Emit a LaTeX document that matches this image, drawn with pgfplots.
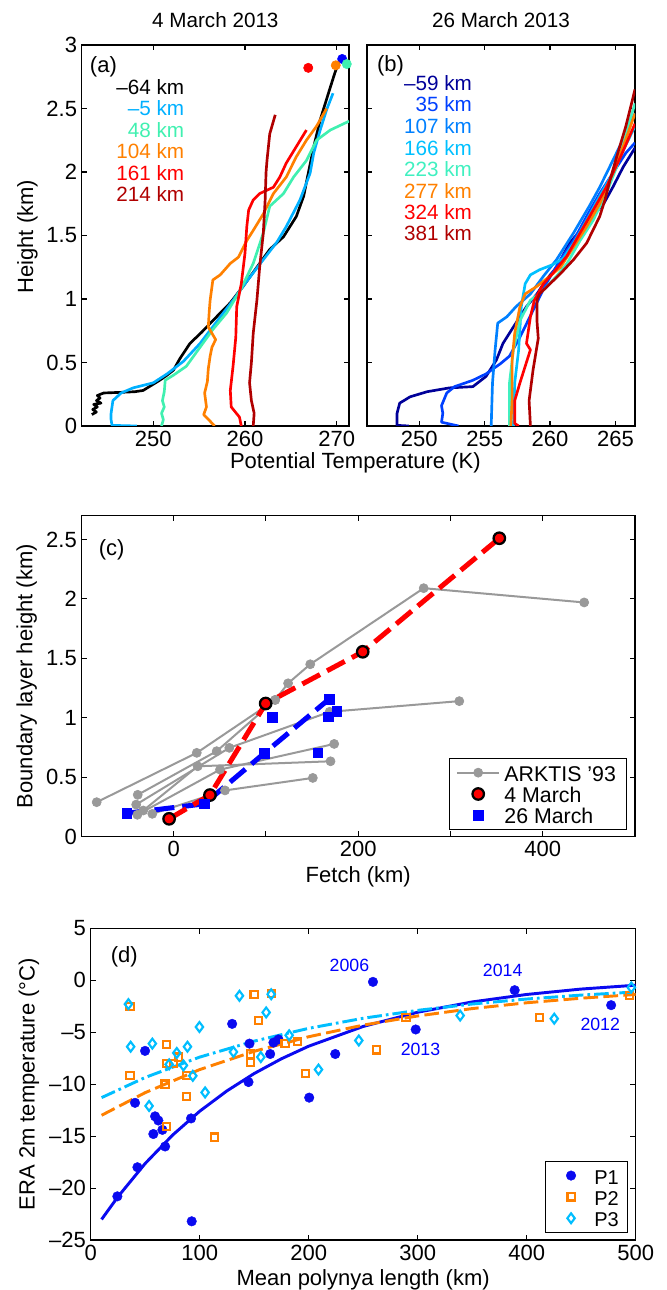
\documentclass[border=0pt]{standalone}
\usepackage{fontspec}
\setmainfont{Liberation Sans}
\usepackage{pgfplots}
\pgfplotsset{compat=1.18}

\definecolor{cAcyan}{RGB}{0,176,255}
\definecolor{cAqua}{RGB}{64,240,176}
\definecolor{cOrange}{RGB}{255,128,0}
\definecolor{cRed}{RGB}{255,0,0}
\definecolor{cDRed}{RGB}{176,0,0}
\definecolor{cNavy}{RGB}{0,0,153}
\definecolor{cBlue35}{RGB}{0,64,255}
\definecolor{cBlue107}{RGB}{0,128,255}
\definecolor{cSky}{RGB}{0,192,255}
\definecolor{cAqua2}{RGB}{64,240,192}
\definecolor{cGray}{RGB}{153,153,153}
\definecolor{cP1}{RGB}{10,10,240}
\definecolor{cP3}{RGB}{0,190,255}

\newcommand\fsT{\fontsize{16.5}{19}\selectfont}
\newcommand\fsL{\fontsize{15.5}{18}\selectfont}
\newcommand\fsG{\fontsize{16}{19}\selectfont}
\newcommand\fsY{\fontsize{13.3}{16}\selectfont}
\newcommand\lstrut{\rule[-5pt]{0pt}{19.5pt}}

\pgfplotsset{
  myax/.style={
    scale only axis, anchor=south west,
    axis line style={line width=0.9pt},
    tick align=inside, major tick length=4pt,
    every tick/.style={black, line width=0.8pt},
    tick label style={font=\fsT},
    enlargelimits=false,
  },
  prof/.style={no marks, line width=2pt, line join=round},
  lgline/.style={legend image code/.code={\path[draw=none,fill=none] (0cm,0cm) -- (#1,0cm);\draw[mark repeat=2,mark phase=2] plot coordinates {(0cm,0cm)(#1/2,0cm)(#1,0cm)};}},
  lgmark/.style={legend image code/.code={\path[draw=none,fill=none] (0cm,0cm) -- (#1,0cm);\draw[only marks, mark repeat=2,mark phase=2] plot coordinates {(0cm,0cm)(#1/2,0cm)(#1,0cm)};}},
}

\begin{document}
\begin{tikzpicture}
\path[use as bounding box] (0,0) rectangle (500.25pt,967.5pt);

% ---------------- (a) ----------------
\begin{axis}[myax, at={(61.3pt,648pt)}, width=200.5pt, height=285.75pt,
  xmin=242.2, xmax=271.35, ymin=0, ymax=3,
  xtick={250,260,270}, xticklabels={250,260,270},
  ytick={0,0.5,1,1.5,2,2.5,3}, yticklabels={0,0.5,1,1.5,2,2.5,3}]
\addplot[prof, black] coordinates {(243.3,0.09)(243.8,0.11)(243.4,0.13)(243.9,0.15)(243.5,0.17)(244.3,0.18)(243.8,0.2)(244.2,0.22)(243.9,0.24)(244.6,0.26)(246.5,0.265)(248,0.27)(248.9,0.28)(249.8,0.32)(250.7,0.36)(251.5,0.4)(252.2,0.44)(252.9,0.53)(254,0.65)(255.3,0.74)(256.5,0.83)(258.4,0.97)(259.8,1.1)(261.3,1.25)(262.7,1.39)(264.2,1.49)(265.6,1.65)(266.4,1.81)(266.9,1.99)(267.5,2.2)(268.2,2.41)(269.1,2.62)(269.8,2.78)(270.4,2.9)};
\addplot[prof, cAcyan] coordinates {(248.2,0)(245.5,0.005)(245.4,0.05)(245.4,0.1)(245.6,0.2)(246.5,0.26)(247.8,0.3)(250,0.34)(251.5,0.41)(253.3,0.51)(255.1,0.65)(256.9,0.82)(258.7,0.99)(260.2,1.14)(262,1.31)(263.5,1.45)(264.5,1.57)(266,1.78)(267.1,1.99)(267.5,2.15)(268.2,2.33)(268.9,2.49)(269.6,2.62)};
\addplot[prof, cAqua] coordinates {(250.9,0)(251.1,0.05)(250.9,0.1)(251.2,0.15)(251,0.2)(251.2,0.27)(251.3,0.36)(252.2,0.4)(253.6,0.47)(255.1,0.62)(256.5,0.76)(258,0.89)(259.5,1.07)(260.9,1.28)(262,1.52)(262.7,1.73)(264.2,1.83)(265.3,1.96)(266.7,2.09)(267.8,2.25)(269.3,2.33)(271.35,2.4)};
\addplot[prof, cOrange] coordinates {(256.7,0)(256.3,0.03)(255.5,0.09)(255.8,0.15)(255.6,0.26)(255.9,0.35)(256,0.45)(256.2,0.55)(256.4,0.62)(256.8,0.68)(256,0.78)(256.1,0.9)(256.2,0.99)(256.5,1.15)(257.3,1.19)(258.4,1.28)(259.3,1.33)(260.2,1.46)(260.9,1.54)(262,1.67)(263.1,1.83)(264.5,1.96)(265.6,2.12)(266.7,2.25)(267.8,2.36)(268.9,2.5)};
\addplot[prof, cRed] coordinates {(259.6,0)(259.4,0.07)(258.5,0.15)(258.4,0.28)(258.7,0.47)(259,0.7)(259.1,0.94)(259.6,1.12)(260,1.36)(260.2,1.57)(260.4,1.7)(260.9,1.78)(261.6,1.83)(263.1,1.88)(263.8,1.96)(264.5,2.07)(265.6,2.2)(266.7,2.33)};
\addplot[prof, cDRed] coordinates {(260.9,0)(261,0.1)(260.7,0.2)(260.5,0.34)(260.7,0.5)(260.9,0.73)(261.3,0.99)(261.6,1.25)(262,1.52)(262.2,1.78)(262.3,2.0)(262.4,2.09)(262.7,2.3)(263.3,2.45)};
\addplot[only marks, mark=*, mark size=3.5pt, color=blue] coordinates {(270.6,2.89)};
\addplot[only marks, mark=*, mark size=3.5pt, color=cAqua] coordinates {(271.1,2.85)};
\addplot[only marks, mark=*, mark size=3.5pt, color=cOrange] coordinates {(269.9,2.84)};
\addplot[only marks, mark=*, mark size=3.5pt, color=cRed] coordinates {(266.9,2.82)};
\node[font=\fsT] at (rel axis cs:0.081,0.943) {(a)};
\node[anchor=east, font=\fsL, text=black] at (rel axis cs:0.401,0.889) {–64 km};
\node[anchor=east, font=\fsL, text=cAcyan] at (rel axis cs:0.401,0.834) {–5 km};
\node[anchor=east, font=\fsL, text=cAqua] at (rel axis cs:0.401,0.777) {48 km};
\node[anchor=east, font=\fsL, text=cOrange] at (rel axis cs:0.401,0.722) {104 km};
\node[anchor=east, font=\fsL, text=cRed] at (rel axis cs:0.401,0.665) {161 km};
\node[anchor=east, font=\fsL, text=cDRed] at (rel axis cs:0.401,0.609) {214 km};
\end{axis}

% ---------------- (b) ----------------
\begin{axis}[myax, at={(275.25pt,648pt)}, width=201pt, height=285.75pt,
  xmin=246, xmax=266.5, ymin=0, ymax=3,
  xtick={250,255,260,265}, xticklabels={250,255,260,265},
  ytick={0,0.5,1,1.5,2,2.5,3}, yticklabels={}]
\addplot[prof, cNavy] coordinates {(249.2,0)(248.3,0.005)(248.3,0.1)(248.5,0.18)(249.3,0.23)(250.6,0.27)(252.3,0.3)(254.1,0.31)(255.1,0.39)(255.9,0.52)(256.4,0.65)(257.2,0.78)(258.2,0.94)(259,1.04)(259.7,1.15)(260.5,1.25)(261.5,1.44)(262.8,1.6)(264.1,1.75)(264.8,1.88)(265.6,2.04)(266.5,2.19)};
\addplot[prof, cBlue35] coordinates {(253,0)(251.7,0.03)(251.8,0.1)(251.7,0.16)(252.1,0.26)(252.7,0.31)(254.1,0.36)(255.1,0.41)(256.2,0.49)(256.9,0.55)(257.7,0.7)(258.7,0.91)(259.7,1.12)(260.8,1.31)(261.8,1.46)(262.8,1.65)(263.8,1.83)(264.8,1.99)(265.8,2.15)(266.5,2.23)};
\addplot[prof, cBlue107] coordinates {(255.5,0)(255.6,0.34)(255.8,0.6)(256,0.81)(256.7,0.86)(257.4,0.94)(258.5,1.04)(259.5,1.18)(260.5,1.31)(261.8,1.52)(263,1.73)(263.8,1.88)(264.8,2.09)(265.8,2.3)(266.5,2.46)};
\addplot[prof, cSky] coordinates {(257.2,0)(257.3,0.34)(257.6,0.6)(257.8,0.94)(258.1,1.12)(258.5,1.19)(259.2,1.23)(260.2,1.27)(261,1.32)(261.8,1.44)(262.8,1.62)(263.8,1.81)(264.8,1.99)(265.6,2.17)(266.5,2.36)};
\addplot[prof, cAqua2] coordinates {(256.9,0)(256.9,0.34)(257.2,0.6)(257.7,0.83)(258.5,0.99)(259.5,1.07)(260.5,1.18)(261.3,1.28)(262.3,1.46)(263.3,1.62)(264.3,1.83)(265.1,2.04)(265.8,2.3)(266.5,2.54)};
\addplot[prof, cOrange] coordinates {(257,0)(257.1,0.2)(257.1,0.52)(257.3,0.73)(257.7,0.94)(258.1,1.04)(259,1.1)(260,1.18)(260.8,1.25)(261.8,1.41)(262.8,1.57)(263.8,1.75)(264.8,1.99)(265.7,2.23)(266.5,2.46)};
\addplot[prof, cRed] coordinates {(257.6,0)(257.3,0.02)(257.3,0.2)(257.7,0.34)(258.1,0.47)(258.5,0.6)(258.2,0.65)(258.5,0.86)(258.8,0.99)(259.5,1.12)(260.2,1.2)(261.3,1.34)(262.3,1.52)(263.3,1.7)(264.3,1.88)(265.4,2.12)(266.5,2.38)};
\addplot[prof, cDRed] coordinates {(258.5,0)(258.4,0.2)(258.7,0.44)(259.1,0.69)(259,0.83)(259,0.99)(259.2,1.04)(260,1.12)(260.8,1.2)(261.8,1.31)(262.8,1.44)(263.8,1.65)(264.2,1.78)(264.6,1.94)(265.1,2.12)(265.8,2.36)(266.5,2.65)};
\node[font=\fsT] at (rel axis cs:0.088,0.946) {(b)};
\node[anchor=east, font=\fsL, text=cNavy] at (rel axis cs:0.409,0.8995) {–59 km};
\node[anchor=east, font=\fsL, text=cBlue35] at (rel axis cs:0.409,0.844) {35 km};
\node[anchor=east, font=\fsL, text=cBlue107] at (rel axis cs:0.409,0.787) {107 km};
\node[anchor=east, font=\fsL, text=cSky] at (rel axis cs:0.409,0.730) {166 km};
\node[anchor=east, font=\fsL, text=cAqua2] at (rel axis cs:0.409,0.675) {223 km};
\node[anchor=east, font=\fsL, text=cOrange] at (rel axis cs:0.409,0.618) {277 km};
\node[anchor=east, font=\fsL, text=cRed] at (rel axis cs:0.409,0.561) {324 km};
\node[anchor=east, font=\fsL, text=cDRed] at (rel axis cs:0.409,0.506) {381 km};
\end{axis}

% ---------------- (c) ----------------
\begin{axis}[myax, at={(61.1pt,340pt)}, width=415.1pt, height=240.75pt,
  xmin=-100, xmax=500, ymin=0, ymax=2.7,
  xtick={0,100,200,300,400}, xticklabels={0,,200,,400},
  ytick={0,0.5,1,1.5,2,2.5}, yticklabels={0,0.5,1,1.5,2,2.5},
  legend cell align=left,
  legend style={at={(rel axis cs:0.986,0.021)}, anchor=south east, draw=black, line width=0.9pt,
    font=\fsG, row sep=0pt, inner xsep=5pt, inner ysep=2.5pt,
    nodes={inner xsep=3pt, inner ysep=0pt}},
  ]
\pgfplotsset{gr/.style={cGray, line width=1.5pt, mark=*, mark size=3.4pt, mark options={solid, fill=cGray, draw=cGray, line width=0.5pt}}}
\addplot[gr, lgline=1.12cm]
  coordinates {(-83.5,0.29)(25,0.705)(110,1.15)(124,1.29)(148,1.45)(271,2.09)(445,1.97)};
\addlegendentry{\lstrut ARKTIS ’93}
\addplot[gr, forget plot] coordinates {(-39,0.352)(46.6,0.719)(110,1.15)};
\addplot[gr, forget plot] coordinates {(-40.7,0.27)(60.3,0.747)(169,1.05)(309.6,1.14)};
\addplot[gr, forget plot] coordinates {(-39.4,0.184)(50.2,0.564)(174,0.78)};
\addplot[gr, forget plot] coordinates {(-23.2,0.192)(55.6,0.389)(150.8,0.494)};
\addplot[gr, forget plot] coordinates {(-33,0.22)(26,0.592)(170,0.634)};
% 26 March
\addplot[blue, line width=3.75pt, dash pattern=on 15pt off 6pt, no marks, forget plot]
  coordinates {(-51,0.197)(33.2,0.276)(97.9,0.70)(168.3,1.156)};
% 4 March line
\addplot[cRed, line width=3.75pt, dash pattern=on 15pt off 6pt, no marks, forget plot]
  coordinates {(-5,0.15)(39.3,0.35)(99.7,1.12)(204.9,1.555)(353,2.51)};
\addplot[only marks, mark=*, mark size=4.3pt, mark options={fill=cRed, draw=black, line width=1.7pt}, lgmark=1.12cm]
  coordinates {(-5,0.15)(39.3,0.35)(99.7,1.12)(204.9,1.555)(353,2.51)};
\addlegendentry{\lstrut 4 March}
\addplot[only marks, mark=square*, mark size=3.6pt, mark options={fill=blue, draw=blue, line width=0.3pt}, lgmark=1.12cm]
  coordinates {(-51,0.197)(33.2,0.276)(97.9,0.70)(168.3,1.156)(106.9,1.006)(176.7,1.057)(167.6,1.009)(156.3,0.705)};
\addlegendentry{\lstrut 26 March}
\node[font=\fsT] at (rel axis cs:0.0546,0.893) {(c)};
\end{axis}

% ---------------- (d) ----------------
\begin{axis}[myax, at={(68pt,37.5pt)}, width=408.75pt, height=233.8pt,
  xmin=0, xmax=500, ymin=-25, ymax=5,
  xtick={0,100,200,300,400,500}, xticklabels={0,100,200,300,400,500},
  ytick={-25,-20,-15,-10,-5,0,5}, yticklabels={–25,–20,–15,–10,–5,0,5},
  legend cell align=left,
  legend style={at={(rel axis cs:0.986,0.023)}, anchor=south east, draw=black, line width=0.9pt,
    font=\fontsize{15}{18}\selectfont, row sep=0pt, inner xsep=4pt, inner ysep=2.5pt,
    nodes={inner xsep=2.5pt, inner ysep=0pt}},
  ]
\addplot[cP1, line width=2.2pt, no marks, forget plot] coordinates {(10,-23.02)(25,-20.84)(50,-17.64)(75,-14.92)(100,-12.61)(125,-10.65)(150,-8.98)(175,-7.56)(200,-6.35)(250,-4.45)(300,-3.08)(350,-2.09)(400,-1.37)(450,-0.85)(500,-0.48)};
\addplot[cOrange, line width=2.2pt, dash pattern=on 11pt off 4pt, no marks, forget plot] coordinates {(10,-13.0)(50,-10.82)(100,-8.60)(150,-6.84)(200,-5.44)(250,-4.32)(300,-3.44)(350,-2.73)(400,-2.17)(450,-1.73)(500,-1.37)};
\addplot[cP3, line width=2.2pt, dash pattern=on 11pt off 3pt on 2pt off 3pt, no marks, forget plot] coordinates {(10,-11.3)(50,-9.36)(100,-7.40)(150,-5.86)(200,-4.63)(250,-3.66)(300,-2.90)(350,-2.29)(400,-1.81)(450,-1.43)(500,-1.13)};
\addplot[only marks, mark=*, mark size=3.6pt, mark options={fill=cP1, draw=cP1, line width=0.3pt}, lgmark=1.05cm]
  coordinates {(24.5,-20.8)(42.9,-18.0)(40.7,-11.8)(49.9,-6.8)(59.1,-13.1)(62.1,-13.5)(57.5,-14.8)(65.8,-14.4)(68.3,-16.0)(92.1,-13.3)(92.7,-23.2)(129.8,-4.2)(144.8,-9.8)(145.7,-6.1)(164.7,-7.1)(167.7,-6.0)(172.3,-5.7)(200.5,-11.3)(224.4,-7.1)(259,-0.16)(298.2,-4.74)(389,-0.96)(477.5,-2.4)};
\addlegendentry{\lstrut P1}
\addplot[only marks, mark=square, mark size=2.7pt, mark options={draw=cOrange, line width=1.6pt}, lgmark=1.05cm]
  coordinates {(36.1,-2.5)(36.1,-9.2)(69.8,-6.2)(69.8,-8.0)(75.9,-8.0)(80.5,-7.4)(68.3,-10.0)(69.8,-14.1)(88.2,-9.2)(88.2,-11.2)(113.6,-15.1)(146.9,-7.1)(146.9,-7.9)(150,-1.35)(154,-3.9)(165.6,-1.3)(178.4,-6.1)(189.8,-5.9)(197.4,-9.0)(262,-6.7)(289.3,-3.6)(412,-3.6)(494.4,-1.5)};
\addlegendentry{\lstrut P2}
\addplot[only marks, mark=diamond, mark size=3.7pt, mark options={draw=cP3, line width=1.6pt}, lgmark=1.05cm]
  coordinates {(34.6,-2.3)(36.7,-6.4)(56.6,-6.1)(53.6,-12.1)(72,-8.1)(79,-7.0)(85.1,-8.2)(88.8,-6.4)(93.7,-9.2)(99.8,-4.5)(105,-10.8)(131,-6.9)(136.5,-1.5)(156.1,-7.4)(161,-3.1)(165.6,-1.35)(182.1,-5.3)(209,-8.6)(246,-5.8)(339,-3.4)(425.3,-3.7)(496,-0.7)};
\addlegendentry{\lstrut P3}
\node[font=\fsT] at (rel axis cs:0.0617,0.909) {(d)};
\node[font=\fsY, text=blue] at (axis cs:237.4,1.44) {2006};
\node[font=\fsY, text=blue] at (axis cs:378,0.96) {2014};
\node[font=\fsY, text=blue] at (axis cs:467.5,-4.23) {2012};
\node[font=\fsY, text=blue] at (axis cs:302.6,-6.64) {2013};
\end{axis}

% ---------------- titles and axis labels ----------------
\node[font=\fontsize{15.5}{18}\selectfont] at (161.5pt,952.1pt) {4 March 2013};
\node[font=\fontsize{15.5}{18}\selectfont] at (375.75pt,952.1pt) {26 March 2013};
\node[font=\fsT] at (266.5pt,620.25pt) {Potential Temperature (K)};
\node[font=\fsT, rotate=90] at (20.6pt,790pt) {Height (km)};
\node[font=\fsT, rotate=90] at (20pt,460.4pt) {Boundary layer height (km)};
\node[font=\fsT] at (268.7pt,309.75pt) {Fetch (km)};
\node[font=\fsT, rotate=90] at (21.75pt,154.35pt) {ERA 2m temperature (°C)};
\node[font=\fsT] at (272.4pt,7.5pt) {Mean polynya length (km)};
\end{tikzpicture}
\end{document}
